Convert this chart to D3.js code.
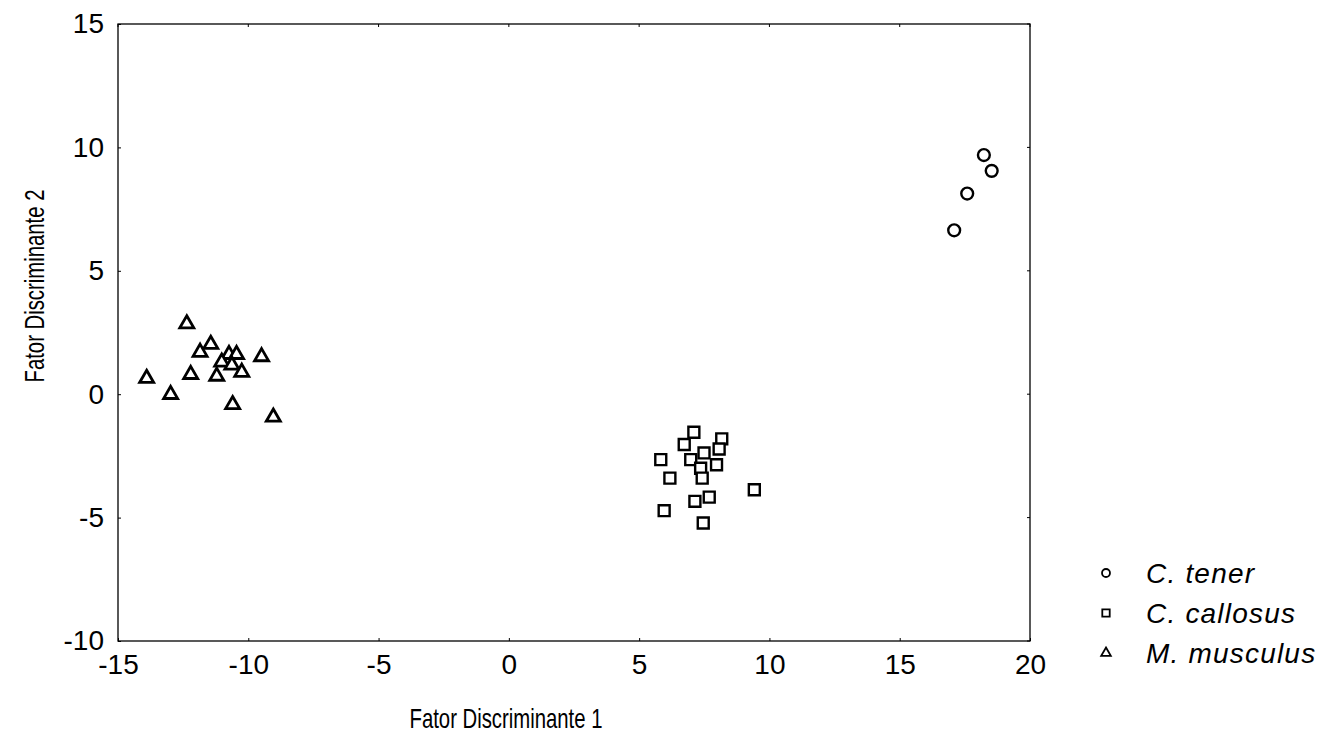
<!DOCTYPE html>
<html>
<head>
<meta charset="utf-8">
<script src="https://cdn.jsdelivr.net/npm/d3@7"></script>
<style>
  html, body { margin: 0; padding: 0; background: #fff; }
  svg { display: block; font-family: "Liberation Sans", Arial, sans-serif; }
</style>
</head>
<body>
<svg id="chart" width="1338" height="739"></svg>
<script>
// ---- data ----
const seriesNames = ["C. tener", "C. callosus", "M. musculus"];
const tenerX = [18.23, 18.53, 17.59, 17.09];
const tenerY = [9.69, 9.05, 8.13, 6.64];
const callosusX = [7.10, 8.17, 6.73, 8.07, 7.49, 6.98, 5.83, 7.97, 7.36, 7.42, 6.18, 9.42, 7.69, 7.14, 5.96, 7.46];
const callosusY = [-1.54, -1.81, -2.04, -2.22, -2.38, -2.65, -2.65, -2.86, -3.00, -3.40, -3.40, -3.87, -4.17, -4.34, -4.72, -5.22];
const musculusX = [-12.36, -11.44, -11.85, -10.74, -10.45, -11.02, -10.63, -9.49, -10.25, -12.21, -11.21, -13.90, -12.98, -10.60, -9.04];
const musculusY = [2.85, 2.02, 1.70, 1.61, 1.61, 1.30, 1.18, 1.52, 0.89, 0.80, 0.73, 0.64, -0.01, -0.42, -0.93];
const xTicks = [-15, -10, -5, 0, 5, 10, 15, 20];
const yTicks = [-10, -5, 0, 5, 10, 15];
const xTitle = "Fator Discriminante 1";
const yTitle = "Fator Discriminante 2";

// ---- layout ----
const svg = d3.select("#chart");
const L = 118, R = 1030, T = 24, B = 641;
const x = d3.scaleLinear().domain([-15, 20]).range([L, R]);
const y = d3.scaleLinear().domain([-10, 15]).range([B, T]);
const fmt = d => String(d);

// frame
svg.append("rect").attr("x", L).attr("y", T).attr("width", R - L).attr("height", B - T)
  .attr("fill", "none").attr("stroke", "#000").attr("stroke-width", 1.3);

// axes with inward ticks
const xAxis = svg.append("g").attr("transform", `translate(0,${B})`)
  .call(d3.axisBottom(x).tickValues(xTicks).tickSize(-3).tickPadding(13).tickFormat(fmt));
const yAxis = svg.append("g").attr("transform", `translate(${L},0)`)
  .call(d3.axisLeft(y).tickValues(yTicks).tickSize(-3).tickPadding(14).tickFormat(fmt));
[xAxis, yAxis].forEach(g => {
  g.select(".domain").remove();
  g.selectAll("text").attr("font-size", 28).attr("fill", "#000")
    .attr("font-family", "'Liberation Sans', Arial, sans-serif");
  g.selectAll("line").attr("stroke", "#000");
});
// right/top inward ticks
svg.append("g").selectAll("line").data(yTicks).join("line")
  .attr("x1", R).attr("x2", R - 3).attr("y1", d => y(d)).attr("y2", d => y(d)).attr("stroke", "#000");
svg.append("g").selectAll("line").data(xTicks).join("line")
  .attr("y1", T).attr("y2", T + 3).attr("x1", d => x(d)).attr("x2", d => x(d)).attr("stroke", "#000");

// titles (condensed as in the reference)
svg.append("text").attr("x", 506).attr("y", 728).attr("text-anchor", "middle")
  .attr("font-size", 28).attr("textLength", 193).attr("lengthAdjust", "spacingAndGlyphs").text(xTitle);
svg.append("text").attr("transform", `translate(44,286) rotate(-90)`).attr("text-anchor", "middle")
  .attr("font-size", 28).attr("textLength", 193).attr("lengthAdjust", "spacingAndGlyphs").text(yTitle);

// points
const sym = {
  circle: d3.symbol().type(d3.symbolCircle).size(110),
  square: d3.symbol().type(d3.symbolSquare).size(120),
  triangle: d3.symbol().type(d3.symbolTriangle).size(85)
};
function drawSeries(xs, ys, type, sw) {
  svg.append("g").selectAll("path").data(xs.map((v, i) => [v, ys[i]])).join("path")
    .attr("d", sym[type])
    .attr("transform", d => `translate(${x(d[0])},${y(d[1])})`)
    .attr("fill", "#fff").attr("stroke", "#000").attr("stroke-width", sw);
}
drawSeries(tenerX, tenerY, "circle", 2.4);
drawSeries(callosusX, callosusY, "square", 2.4);
drawSeries(musculusX, musculusY, "triangle", 2.8);

// legend
const legTypes = ["circle", "square", "triangle"];
const legSym = {
  circle: d3.symbol().type(d3.symbolCircle).size(50),
  square: d3.symbol().type(d3.symbolSquare).size(55),
  triangle: d3.symbol().type(d3.symbolTriangle).size(40)
};
const leg = svg.append("g");
seriesNames.forEach((name, i) => {
  const cy = 573 + i * 40;
  leg.append("path").attr("d", legSym[legTypes[i]])
    .attr("transform", `translate(1106,${cy})`)
    .attr("fill", "#fff").attr("stroke", "#000").attr("stroke-width", 1.8);
  leg.append("text").attr("x", 1146).attr("y", cy + 10).attr("font-size", 28)
    .attr("font-style", "italic").attr("letter-spacing", 1.2).text(name);
});
</script>
</body>
</html>
